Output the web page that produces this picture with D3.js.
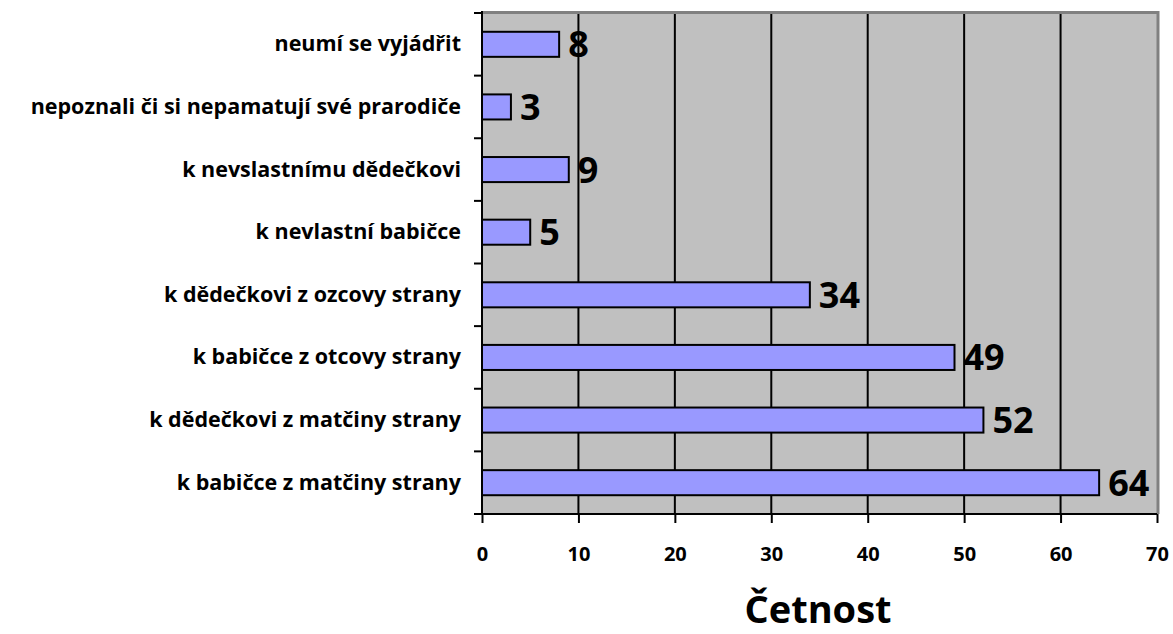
<!DOCTYPE html>
<html lang="cs">
<head>
<meta charset="UTF-8">
<title>Četnost</title>
<script src="https://d3js.org/d3.v7.min.js"></script>
<style>
  body { margin: 0; background: #fff; }
  text { font-family: "Open Sans", sans-serif; font-weight: bold; fill: #000; }
</style>
</head>
<body>
<svg id="chart" width="1173" height="634"></svg>
<script>
// data (top to bottom)
var categories = [
  "neumí se vyjádřit",
  "nepoznali či si nepamatují své prarodiče",
  "k nevslastnímu dědečkovi",
  "k nevlastní babičce",
  "k dědečkovi z ozcovy strany",
  "k babičce z otcovy strany",
  "k dědečkovi z matčiny strany",
  "k babičce z matčiny strany"
];
var counts = [8, 3, 9, 5, 34, 49, 52, 64];
var xTicks = [0, 10, 20, 30, 40, 50, 60, 70];
var axisTitle = "Četnost";

var svg = d3.select("#chart");
var plotL = 482, plotR = 1157, plotT = 13, plotB = 514;

var x = d3.scaleLinear().domain([0, 70]).range([plotL, plotR]);
var y = d3.scaleBand().domain(categories).range([plotT, plotB])
  .paddingInner(0.6).paddingOuter(0.3);

// plot background
svg.append("rect")
  .attr("x", plotL).attr("y", plotT)
  .attr("width", plotR - plotL).attr("height", plotB - plotT)
  .attr("fill", "#c0c0c0");

// gridlines
svg.append("g").selectAll("line")
  .data(xTicks.filter(function (d) { return d > 0 && d < 70; }))
  .enter().append("line")
    .attr("x1", d => x(d)).attr("x2", d => x(d))
    .attr("y1", plotT).attr("y2", plotB)
    .attr("stroke", "#000").attr("stroke-width", 2);

// gray top/right border
svg.append("path")
  .attr("d", "M" + plotL + "," + (plotT - 0.5) + "H" + (plotR + 1) + "V" + plotB)
  .attr("fill", "none").attr("stroke", "#808080").attr("stroke-width", 3);

// bars
svg.append("g").selectAll("rect")
  .data(counts)
  .enter().append("rect")
    .attr("x", x(0))
    .attr("y", (d, i) => y(categories[i]))
    .attr("width", d => x(d) - x(0))
    .attr("height", y.bandwidth())
    .attr("fill", "#9999ff")
    .attr("stroke", "#000").attr("stroke-width", 2);

// value labels
svg.append("g").selectAll("text")
  .data(counts)
  .enter().append("text")
    .attr("x", d => x(d) + 9)
    .attr("y", (d, i) => y(categories[i]) + y.bandwidth() / 2 + 13)
    .attr("font-size", 36)
    .text(d => d);

// y axis line + ticks at category boundaries
var step = y.step();
svg.append("line")
  .attr("x1", plotL).attr("x2", plotL).attr("y1", plotT - 2).attr("y2", plotB)
  .attr("stroke", "#000").attr("stroke-width", 2);
svg.append("g").selectAll("line")
  .data(d3.range(categories.length + 1))
  .enter().append("line")
    .attr("x1", plotL - 8).attr("x2", plotL)
    .attr("y1", i => plotT + i * step).attr("y2", i => plotT + i * step)
    .attr("stroke", "#000").attr("stroke-width", 2);

// category labels
svg.append("g").selectAll("text")
  .data(categories)
  .enter().append("text")
    .attr("x", 461)
    .attr("y", d => y(d) + y.bandwidth() / 2 + 7)
    .attr("text-anchor", "end")
    .attr("font-size", 21.5)
    .text(d => d);

// x axis
var xAxis = svg.append("g")
  .attr("transform", "translate(0," + plotB + ")")
  .call(d3.axisBottom(x).tickValues(xTicks).tickSize(9).tickPadding(24));
xAxis.select(".domain").attr("stroke-width", 2)
  .attr("d", "M" + (plotL - 8) + ",0H" + plotR);
xAxis.selectAll(".tick line").attr("stroke-width", 2);
xAxis.selectAll(".tick text")
  .attr("font-size", 20).attr("font-family", "Open Sans").attr("font-weight", "bold");

// axis title
svg.append("text")
  .attr("x", 818).attr("y", 623)
  .attr("text-anchor", "middle")
  .attr("font-size", 38)
  .text(axisTitle);
</script>
</body>
</html>
